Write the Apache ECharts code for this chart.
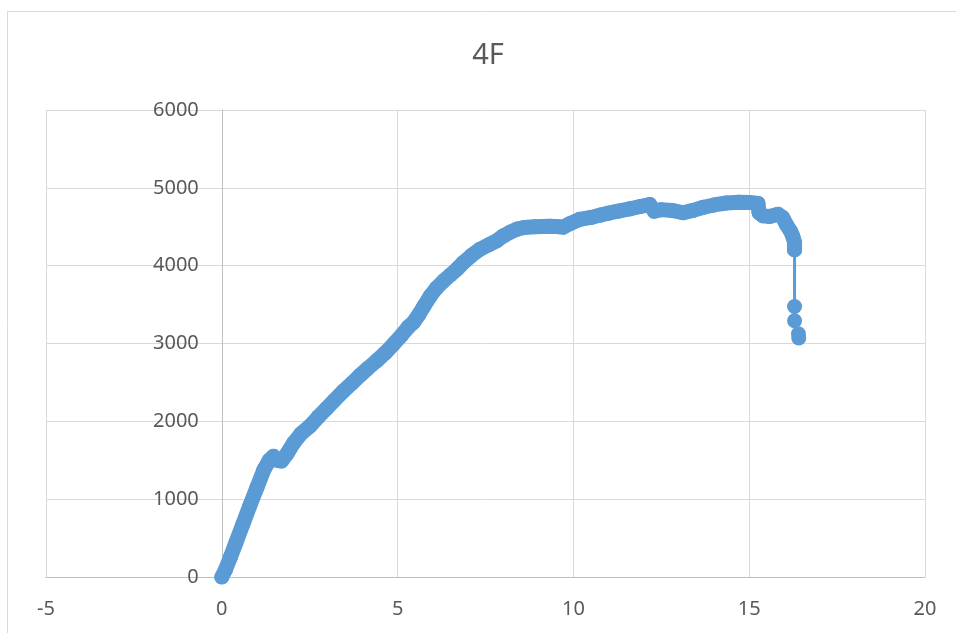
<!DOCTYPE html>
<html>
<head>
<meta charset="utf-8">
<title>4F</title>
<script src="https://cdn.jsdelivr.net/npm/echarts@6/dist/echarts.min.js"></script>
<style>
  html, body { margin: 0; padding: 0; background: #ffffff; }
  #chart { width: 956px; height: 633px; }
</style>
</head>
<body>
<div id="chart"></div>
<script>
// Load–displacement record for specimen 4F
const titleText = '4F';
const xTicks = [-5, 0, 5, 10, 15, 20];
const yTicks = [0, 1000, 2000, 3000, 4000, 5000, 6000];

const dispX = [
  0, 0.1, 0.25, 0.4, 0.6, 0.8, 1.0, 1.2, 1.35, 1.47, 1.58, 1.7, 1.85, 2.04, 2.25,
  2.51, 2.75, 2.99, 3.2, 3.46, 3.7, 3.93, 4.15, 4.41, 4.65, 4.88, 5.1, 5.3, 5.45,
  5.6, 5.75, 5.93, 6.1, 6.3, 6.5, 6.7, 6.87, 7.1, 7.34, 7.6, 7.82, 8.0, 8.2, 8.4,
  8.6, 8.9, 9.33, 9.6, 9.71, 9.9, 10.18, 10.5, 10.77, 11.0, 11.27, 11.6, 11.9,
  12.17, 12.3, 12.5, 12.8, 13.12, 13.4, 13.7, 14.0, 14.35, 14.7, 15.01, 15.25,
  15.28, 15.4, 15.58, 15.82, 15.95, 16.06, 16.18, 16.24, 16.29, 16.29,
  16.29, 16.29, 16.4, 16.41
];
const loadY = [
  0, 90, 260, 440, 680, 920, 1150, 1380, 1500, 1550, 1500, 1490, 1580, 1720, 1840,
  1940, 2060, 2170, 2270, 2390, 2490, 2590, 2680, 2780, 2880, 2990, 3100, 3210, 3270,
  3370, 3480, 3610, 3710, 3800, 3880, 3960, 4040, 4130, 4210, 4270, 4320, 4380, 4430, 4470,
  4490, 4500, 4505, 4500, 4495, 4540, 4595, 4620, 4650, 4675, 4700, 4730, 4760,
  4785, 4700, 4720, 4710, 4680, 4710, 4750, 4780, 4805, 4815, 4812, 4800,
  4680, 4640, 4632, 4660, 4620, 4525, 4440, 4375, 4300, 4204,
  3476, 3293, 3126, 3070
];

const points = dispX.map((x, i) => [x, loadY[i]]);

// the densely sampled curve ends where the load suddenly falls away
let breakIdx = points.length - 1;
for (let i = 0; i < points.length - 1; i++) {
  if (points[i + 1][1] - points[i][1] < -400) { breakIdx = i; break; }
}
const curve = points.slice(0, breakIdx + 1);
const tail = points.slice(breakIdx);

const blue = '#5B9BD5';
const textGray = '#595959';
const font = 'Noto Sans';

const gridLeft = 46, gridRight = 31, gridTop = 110, gridBottom = 56;
const plotWidth = 956 - gridLeft - gridRight;
const xMin = xTicks[0], xMax = xTicks[xTicks.length - 1];
// the value axis crosses the horizontal axis at x = 0
const yAxisShift = plotWidth * (0 - xMin) / (xMax - xMin);

const chart = echarts.init(document.getElementById('chart'), null, { renderer: 'canvas' });
chart.setOption({
  animation: false,
  backgroundColor: '#ffffff',
  title: {
    text: titleText,
    left: 483,
    top: 36,
    textAlign: 'center',
    textStyle: { color: textGray, fontFamily: font, fontSize: 29, fontWeight: 'normal' }
  },
  graphic: [{
    type: 'rect',
    shape: { x: 7.5, y: 11.5, width: 1000, height: 700 },
    style: { fill: 'none', stroke: '#d9d9d9', lineWidth: 1 },
    silent: true, z: -10
  }],
  grid: {
    left: gridLeft, right: gridRight, top: gridTop, bottom: gridBottom,
    containLabel: false, outerBoundsMode: 'none'
  },
  xAxis: {
    type: 'value',
    min: xMin, max: xMax, interval: xTicks[1] - xTicks[0],
    axisLine: { onZero: true, lineStyle: { color: '#bfbfbf', width: 1 } },
    axisTick: { show: false },
    axisLabel: { color: textGray, fontFamily: font, fontSize: 20, margin: 22 },
    splitLine: { show: true, lineStyle: { color: '#d9d9d9', width: 1 } }
  },
  yAxis: {
    type: 'value',
    position: 'left',
    offset: -yAxisShift,
    min: yTicks[0], max: yTicks[yTicks.length - 1], interval: yTicks[1] - yTicks[0],
    axisLine: { show: true, onZero: false, lineStyle: { color: '#bfbfbf', width: 1 } },
    axisTick: { show: false },
    axisLabel: {
      color: textGray, fontFamily: font, fontSize: 20, margin: 23,
      formatter: (v) => String(v)
    },
    splitLine: { show: true, lineStyle: { color: '#d9d9d9', width: 1 } }
  },
  series: [
    {
      name: '4F',
      type: 'line',
      data: curve,
      symbol: 'circle',
      symbolSize: 15,
      showAllSymbol: true,
      lineStyle: { color: blue, width: 15, cap: 'round', join: 'round' },
      itemStyle: { color: blue, borderWidth: 0 }
    },
    {
      name: '4F drop',
      type: 'line',
      data: tail,
      symbol: 'circle',
      symbolSize: 15,
      showAllSymbol: true,
      lineStyle: { color: blue, width: 3 },
      itemStyle: { color: blue, borderWidth: 0 }
    }
  ]
});
</script>
</body>
</html>
